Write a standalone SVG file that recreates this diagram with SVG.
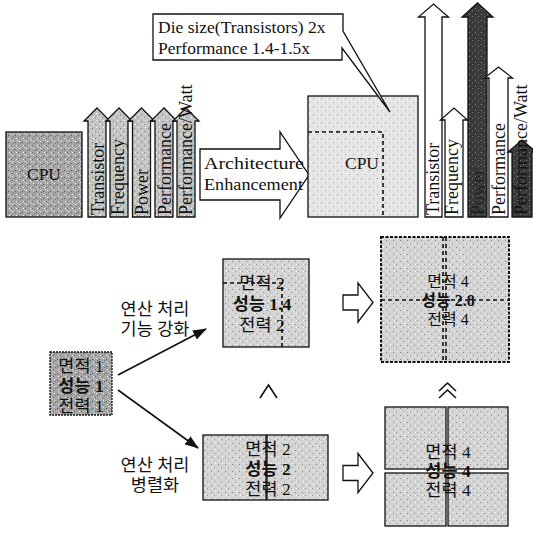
<svg xmlns="http://www.w3.org/2000/svg" width="533" height="537" viewBox="0 0 533 537">
<defs>
<pattern id="pDark" width="7" height="7" patternUnits="userSpaceOnUse">
<rect width="7" height="7" fill="#a6a6a6"/>
<rect x="1" y="2" width="1" height="1" fill="#555"/>
<rect x="4" y="5" width="1" height="1" fill="#666"/>
<rect x="5" y="1" width="1" height="1" fill="#eee"/>
<rect x="2" y="5" width="1" height="1" fill="#fafafa"/>
<rect x="6" y="3" width="1" height="1" fill="#707070"/>
<rect x="3" y="0" width="1" height="1" fill="#ddd"/>
</pattern>
<pattern id="pMid" width="7" height="7" patternUnits="userSpaceOnUse">
<rect width="7" height="7" fill="#c4c4c4"/>
<rect x="1" y="2" width="1" height="1" fill="#777"/>
<rect x="4" y="5" width="1" height="1" fill="#888"/>
<rect x="5" y="1" width="1" height="1" fill="#fff"/>
<rect x="2" y="5" width="1" height="1" fill="#fff"/>
</pattern>
<pattern id="pLight" width="8" height="8" patternUnits="userSpaceOnUse">
<rect width="8" height="8" fill="#e6e6e6"/>
<rect x="1" y="2" width="1" height="1" fill="#999"/>
<rect x="5" y="6" width="1" height="1" fill="#aaa"/>
<rect x="6" y="1" width="1" height="1" fill="#fff"/>
<rect x="3" y="5" width="1" height="1" fill="#fff"/>
</pattern>
<pattern id="pBox" width="7" height="7" patternUnits="userSpaceOnUse">
<rect width="7" height="7" fill="#d4d4d4"/>
<rect x="1" y="2" width="1" height="1" fill="#888"/>
<rect x="4" y="5" width="1" height="1" fill="#999"/>
<rect x="5" y="1" width="1" height="1" fill="#fff"/>
<rect x="2" y="5" width="1" height="1" fill="#fff"/>
</pattern>
<pattern id="pBlack" width="6" height="6" patternUnits="userSpaceOnUse">
<rect width="6" height="6" fill="#3a3a3a"/>
<rect x="1" y="2" width="1" height="1" fill="#888"/>
<rect x="4" y="4" width="1" height="1" fill="#777"/>
</pattern>
<marker id="ah" markerWidth="14" markerHeight="10" refX="13" refY="5" orient="auto" markerUnits="userSpaceOnUse">
<path d="M0,0 L14,5 L0,10 Z" fill="#111"/>
</marker>
</defs>
<style>
.t{font-family:"Liberation Serif","Noto Sans CJK KR",serif;font-size:17.5px;fill:#111}
.r{font-size:18px}
.k{font-family:"Liberation Serif","Noto Sans CJK KR",serif;font-size:17.5px;fill:#111;text-anchor:middle}
.s{font-size:16px}
.b{font-weight:bold}
.ol{stroke:#111;stroke-width:1.3}
.dash{stroke:#111;stroke-width:1.6;stroke-dasharray:4,3;fill:none}
.line{stroke:#111;stroke-width:1.6;fill:none}
.hollow{fill:#fff;stroke:#111;stroke-width:1.3}
</style>

<g id="cpu-small">
<rect x="6" y="132" width="76" height="85" fill="url(#pDark)" class="ol" stroke-width="1.6"/>
<text class="t" x="44" y="180" text-anchor="middle" font-size="18.5">CPU</text>
</g>

<g id="left-arrows">
<g id="la-transistor">
<path d="M88,217 V121 H84 L97,108 L110,121 H106 V217 Z" fill="url(#pMid)" class="ol"/>
<text class="t r" transform="translate(104,215) rotate(-90)">Transistor</text>
</g>
<g id="la-frequency">
<path d="M110,217 V121 H106 L119,108 L132,121 H128 V217 Z" fill="url(#pMid)" class="ol"/>
<text class="t r" transform="translate(124,215) rotate(-90)">Frequency</text>
</g>
<g id="la-power">
<path d="M132.5,217 V121 H128.5 L141.5,108 L154.5,121 H150.5 V217 Z" fill="url(#pMid)" class="ol"/>
<text class="t r" transform="translate(148,215) rotate(-90)">Power</text>
</g>
<g id="la-performance">
<path d="M155,217 V121 H151 L164,108 L177,121 H173 V217 Z" fill="url(#pMid)" class="ol"/>
<text class="t r" transform="translate(171,215) rotate(-90)">Performance</text>
</g>
<g id="la-perfwatt">
<path d="M177,217 V121 H173 L186,108 L199,121 H195 V217 Z" fill="url(#pMid)" class="ol"/>
<text class="t r" transform="translate(192,215) rotate(-90)">Performance/Watt</text>
</g>
</g>

<g id="arch-arrow">
<path d="M200,149 H280 V132 L309,175 L280,218 V200 H200 Z" class="hollow"/>
<text class="t" x="204" y="169" textLength="100" lengthAdjust="spacingAndGlyphs">Architecture</text>
<text class="t" x="204" y="190" textLength="99" lengthAdjust="spacingAndGlyphs">Enhancement</text>
</g>

<g id="cpu-large">
<rect x="308" y="96" width="110" height="121" fill="url(#pLight)" class="ol"/>
<path d="M308,132 H383 V217" class="dash"/>
<text class="t" x="362" y="169" text-anchor="middle" font-size="18.5">CPU</text>
</g>

<g id="callout">
<path d="M153,14 H343 V31 L390,112 L342,48 V60 H153 Z" fill="#fff" class="ol"/>
<text class="t" x="158" y="33">Die size(Transistors) 2x</text>
<text class="t" x="158" y="54">Performance 1.4-1.5x</text>
</g>

<g id="right-arrows">
<g id="ra-transistor">
<path d="M425,217 V17 H418.5 L433.5,4 L448.5,17 H442 V217 Z" fill="#fff" class="ol"/>
<text class="t r" transform="translate(439,215) rotate(-90)">Transistor</text>
</g>
<g id="ra-frequency">
<path d="M445,217 V120 H440.5 L454,108 L467.5,120 H463 V217 Z" fill="#fff" class="ol"/>
<text class="t r" transform="translate(458,215) rotate(-90)">Frequency</text>
</g>
<g id="ra-power">
<path d="M468,217 V17 H462 L477.5,3 L493,17 H487 V217 Z" fill="url(#pBlack)" class="ol"/>
<text class="t r" transform="translate(484,215) rotate(-90)" style="fill:#222">Power</text>
</g>
<g id="ra-performance">
<path d="M489,217 V78 H484.5 L498.5,67 L512.5,78 H508 V217 Z" fill="#fff" class="ol"/>
<text class="t r" transform="translate(505,215) rotate(-90)">Performance</text>
</g>
<g id="ra-perfwatt">
<path d="M512,217 V152 H508 L522,140 L536,152 H532 V217 Z" fill="url(#pBlack)" class="ol"/>
<text class="t r" transform="translate(527,215) rotate(-90)">Performance/Watt</text>
</g>
</g>

<g id="base">
<rect x="50" y="352" width="62" height="63" fill="url(#pDark)" class="ol" stroke-dasharray="2,1"/>
<text class="k" x="81" y="372">면적 1</text>
<text class="k b" x="81" y="392">성능 1</text>
<text class="k" x="81" y="412">전력 1</text>
</g>

<g id="label-enhance">
<text class="k" x="155" y="315">연산 처리</text>
<text class="k" x="155" y="335">기능 강화</text>
</g>

<g id="label-parallel">
<text class="k" x="155" y="471">연산 처리</text>
<text class="k" x="155" y="491">병렬화</text>
</g>

<g id="enhanced">
<rect x="223" y="259" width="86" height="88" fill="url(#pBox)" class="ol"/>
<path d="M223,283 H282 V347" class="dash" stroke-width="1.2"/>
<text class="k" x="262" y="289">면적 2</text>
<text class="k b" x="262" y="310">성능 1.4</text>
<text class="k" x="262" y="331">전력 2</text>
</g>

<g id="parallel">
<rect x="203" y="435" width="63" height="65" fill="url(#pBox)" class="ol"/>
<rect x="267" y="435" width="61" height="65" fill="url(#pBox)" class="ol"/>
<text class="k" x="268" y="455">면적 2</text>
<text class="k b" x="268" y="475">성능 2</text>
<text class="k" x="268" y="495">전력 2</text>
</g>

<g id="enhanced-x2">
<rect x="381" y="237" width="128" height="125" fill="url(#pBox)" stroke="#111" stroke-width="2" stroke-dasharray="3,1.5"/>
<path d="M381,300 H509" class="dash" stroke-width="2" stroke-dasharray="3,2"/>
<path d="M443,237 V362 M446,237 V362" class="dash" stroke-width="1" stroke-dasharray="3,3"/>
<text class="k s" x="448" y="287">면적 4</text>
<text class="k s b" x="448" y="306">성능 2.8</text>
<text class="k s" x="448" y="325">전력 4</text>
</g>

<g id="parallel-x4">
<rect x="385" y="407" width="61" height="62" fill="url(#pBox)" class="ol"/>
<rect x="448" y="407" width="60" height="62" fill="url(#pBox)" class="ol"/>
<rect x="385" y="473" width="61" height="53" fill="url(#pBox)" class="ol"/>
<rect x="448" y="473" width="60" height="53" fill="url(#pBox)" class="ol"/>
<text class="k" x="448" y="458">면적 4</text>
<text class="k b" x="448" y="477">성능 4</text>
<text class="k" x="448" y="496">전력 4</text>
</g>

<g id="connectors">
<line x1="118" y1="375" x2="206" y2="329" class="line" marker-end="url(#ah)"/>
<line x1="118" y1="390" x2="198" y2="448" class="line" marker-end="url(#ah)"/>
<path d="M343,295 H358 V283 L373,302.5 L358,322 V310 H343 Z" class="hollow"/>
<path d="M343,465.5 H358 V453.5 L373,473 L358,492.5 V480.5 H343 Z" class="hollow"/>
<path d="M260,398 L268.5,385 L277,398" class="line" stroke-width="1.3"/>
<path d="M439,391 L447.5,383 L456,391 M439,398 L447.5,390 L456,398" class="line" stroke-width="1.3"/>
</g>
</svg>
